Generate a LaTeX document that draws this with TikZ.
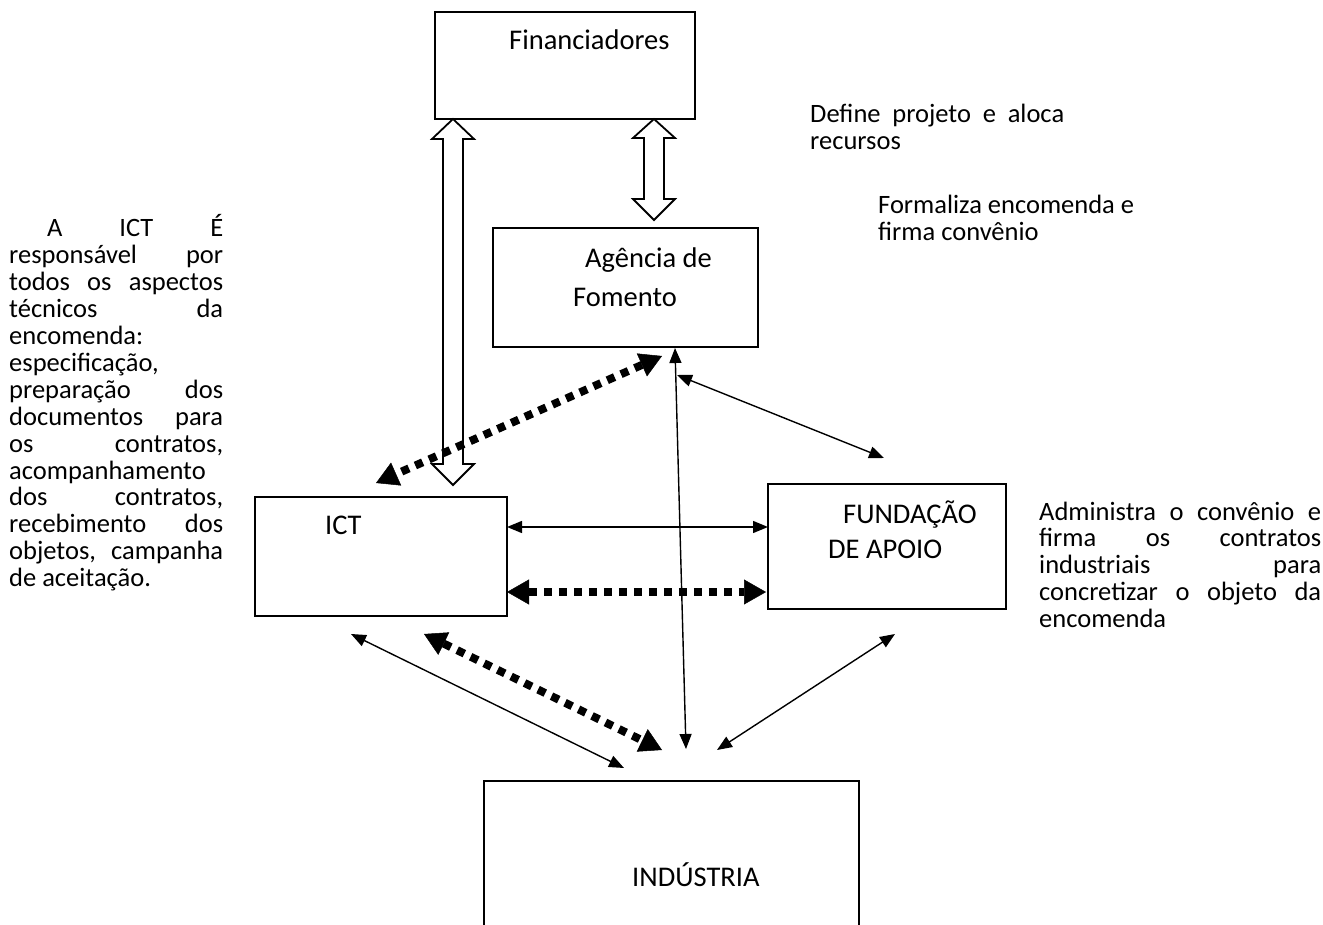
\documentclass[tikz,border=0pt]{standalone}
\usepackage{fontspec}
\setmainfont{Carlito}
\usetikzlibrary{arrows.meta,calc}
\tikzset{
  box/.style={draw, line width=1.8pt, rectangle, inner sep=0pt},
  boxtext/.style={font=\fontsize{28.5}{34}\selectfont, inner sep=0pt, anchor=base west},
  sidetext/.style={font=\fontsize{26.5}{26.9}\selectfont, inner sep=0pt, anchor=base west},
  thinarr/.style={line width=1.4pt, {Triangle[length=15pt,width=12pt]}-{Triangle[length=15pt,width=12pt]}},
  dotarr/.style={line width=8pt, dash pattern=on 8pt off 7pt,
    {Triangle[length=22pt,width=25pt,line width=0.5pt]}-{Triangle[length=22pt,width=25pt,line width=0.5pt]}},
  hollow/.style={draw, line width=1.8pt, fill=white, line join=miter},
}
\newcommand\hollowarrow[4]{%
  \draw[hollow] let \p1=(#1), \p2=(#2) in
    (\x1,\y1) -- (\x1+21pt,\y1-#3) -- (\x1+10pt,\y1-#3) -- (\x1+10pt,\y2+#4)
    -- (\x1+21pt,\y2+#4) -- (\x2,\y2) -- (\x1-21pt,\y2+#4) -- (\x1-10pt,\y2+#4)
    -- (\x1-10pt,\y1-#3) -- (\x1-21pt,\y1-#3) -- cycle;}
\begin{document}
\begin{tikzpicture}[x=1pt,y=-1pt]
\useasboundingbox (0,0) rectangle (1323,925);

% boxes
\node[box, minimum width=260pt, minimum height=107pt] (fin) at (565,65.5) {};
\node[box, minimum width=265pt, minimum height=119pt] (ag) at (625.5,287.5) {};
\node[box, minimum width=252pt, minimum height=119pt] (ict) at (381,556.5) {};
\node[box, minimum width=238pt, minimum height=125pt] (fund) at (887,546.5) {};
\begin{scope}
  \clip (0,0) rectangle (1323,925);
  \node[box, minimum width=375pt, minimum height=170pt] (ind) at (671.5,866) {};
\end{scope}

% box texts
\node[boxtext] (tfin) at (509,50) {Financiadores};
\node[boxtext] (tag1) at (585,268) {Agência de};
\node[boxtext] (tag2) at (573,307) {Fomento};
\node[boxtext] (tict) at (325,534) {ICT};
\node[boxtext] (tfu1) at (843,523) {FUNDAÇÃO};
\node[boxtext] (tfu2) at (828,558) {DE APOIO};
\node[boxtext] (tind) at (632,886) {INDÚSTRIA};

% side texts
\node[sidetext] (tdef) at (810,123) {\vtop{\hbox to 254pt{Define projeto e aloca}\hbox{recursos}}};
\node[sidetext] (tfor) at (878,214) {\vtop{\hbox{Formaliza encomenda e}\hbox{firma convênio}}};
\node[sidetext] (tadm) at (1039,520) {\vtop{%
  \hbox to 282pt{Administra o convênio e}%
  \hbox to 282pt{firma os contratos}%
  \hbox to 282pt{industriais para}%
  \hbox to 282pt{concretizar o objeto da}%
  \hbox{encomenda}}};
\node[sidetext] (tict2) at (9,237) {\vtop{%
  \hbox to 214pt{\hskip38pt A ICT É}%
  \hbox to 214pt{responsável por}%
  \hbox to 214pt{todos os aspectos}%
  \hbox to 214pt{técnicos da}%
  \hbox{encomenda:}%
  \hbox{especificação,}%
  \hbox to 214pt{preparação dos}%
  \hbox to 214pt{documentos para}%
  \hbox to 214pt{os contratos,}%
  \hbox{acompanhamento}%
  \hbox to 214pt{dos contratos,}%
  \hbox to 214pt{recebimento dos}%
  \hbox to 214pt{objetos, campanha}%
  \hbox{de aceitação.}}};

% connector end points
\coordinate (h1a) at (453,119);
\coordinate (h1b) at (453,485);
\coordinate (h2a) at (654,119);
\coordinate (h2b) at (654,220);
\coordinate (d1a) at (662,356);
\coordinate (d1b) at (376,483);
\coordinate (d2a) at (507,592);
\coordinate (d2b) at (766,592);
\coordinate (d3a) at (424,634);
\coordinate (d3b) at (662,750);
\coordinate (t1a) at (507,527);
\coordinate (t1b) at (768,527);
\coordinate (t2a) at (675,348);
\coordinate (t2b) at (686,749);
\coordinate (t3a) at (677,375);
\coordinate (t3b) at (884,458);
\coordinate (t4a) at (351,634);
\coordinate (t4b) at (624,768);
\coordinate (t5a) at (895,634);
\coordinate (t5b) at (717,750);

% hollow double arrows
\hollowarrow{h1a}{h1b}{20pt}{21pt}
\hollowarrow{h2a}{h2b}{19pt}{21pt}

% thin arrows
\draw[thinarr] (t1a) -- (t1b);
\draw[thinarr] (t2a) -- (t2b);
\draw[thinarr] (t3a) -- (t3b);
\draw[thinarr] (t4a) -- (t4b);
\draw[thinarr] (t5a) -- (t5b);

% dotted thick arrows
\draw[dotarr] (d1a) -- (d1b);
\draw[dotarr] (d2a) -- (d2b);
\draw[dotarr] (d3a) -- (d3b);
\end{tikzpicture}
\end{document}
